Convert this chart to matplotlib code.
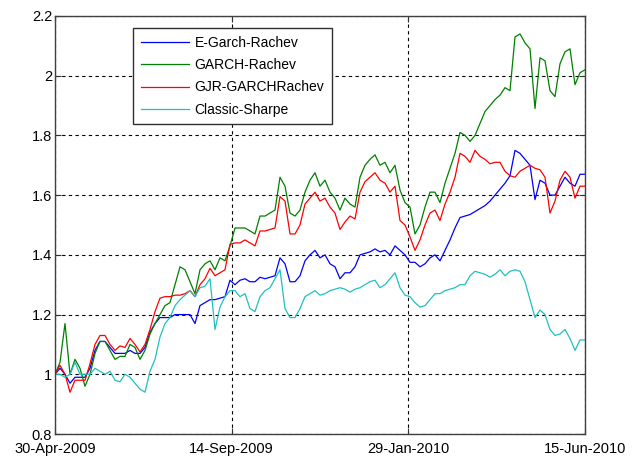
import matplotlib
matplotlib.use("Agg")
import matplotlib.pyplot as plt
import matplotlib.dates as mdates
import pandas as pd

plt.rcParams['font.family'] = ['Liberation Sans', 'DejaVu Sans']

start_date = '2009-04-30'
end_date = '2010-06-15'
tick_dates = ['2009-04-30', '2009-09-14', '2010-01-29', '2010-06-15']
y_ticks = [0.8, 1.0, 1.2, 1.4, 1.6, 1.8, 2.0, 2.2]
y_tick_labels = ['0.8', '1', '1.2', '1.4', '1.6', '1.8', '2', '2.2']

labels = ['E-Garch-Rachev', 'GARCH-Rachev', 'GJR-GARCHRachev', 'Classic-Sharpe']

egarch = [1.00, 1.02, 1.00, 0.97, 0.99, 0.99, 0.99, 1.02, 1.08, 1.11,
          1.11, 1.09, 1.07, 1.07, 1.07, 1.08, 1.07, 1.07, 1.09, 1.14,
          1.17, 1.19, 1.19, 1.19, 1.20, 1.20, 1.20, 1.20, 1.17, 1.23,
          1.24, 1.25, 1.25, 1.255, 1.26, 1.315, 1.30, 1.315, 1.32, 1.31,
          1.31, 1.325, 1.32, 1.325, 1.33, 1.39, 1.37, 1.31, 1.31, 1.33,
          1.38, 1.40, 1.415, 1.39, 1.40, 1.37, 1.36, 1.32, 1.34, 1.34,
          1.36, 1.40, 1.405, 1.41, 1.42, 1.41, 1.415, 1.40, 1.43, 1.415,
          1.40, 1.375, 1.375, 1.36, 1.37, 1.39, 1.40, 1.38, 1.415, 1.45,
          1.49, 1.525, 1.53, 1.535, 1.545, 1.555, 1.565, 1.58, 1.60, 1.62,
          1.64, 1.665, 1.75, 1.74, 1.72, 1.70, 1.585, 1.65, 1.64, 1.60,
          1.60, 1.63, 1.66, 1.64, 1.63, 1.67, 1.67]

garch = [1.00, 1.04, 1.17, 1.00, 1.05, 1.02, 0.96, 1.00, 1.07, 1.11,
         1.11, 1.08, 1.05, 1.06, 1.06, 1.10, 1.09, 1.05, 1.08, 1.135,
         1.17, 1.20, 1.23, 1.24, 1.30, 1.36, 1.35, 1.31, 1.27, 1.35,
         1.37, 1.38, 1.35, 1.39, 1.38, 1.43, 1.49, 1.49, 1.49, 1.48,
         1.47, 1.53, 1.53, 1.54, 1.55, 1.66, 1.63, 1.54, 1.53, 1.55,
         1.61, 1.65, 1.675, 1.63, 1.65, 1.61, 1.59, 1.55, 1.59, 1.57,
         1.56, 1.66, 1.70, 1.72, 1.735, 1.70, 1.71, 1.675, 1.70, 1.617,
         1.575, 1.56, 1.47, 1.50, 1.56, 1.61, 1.61, 1.575, 1.64, 1.69,
         1.74, 1.81, 1.80, 1.78, 1.80, 1.84, 1.88, 1.90, 1.92, 1.935,
         1.96, 1.95, 2.13, 2.14, 2.11, 2.09, 1.89, 2.06, 2.05, 1.95,
         1.93, 2.04, 2.08, 2.09, 1.97, 2.01, 2.02]

gjr = [1.00, 1.03, 1.00, 0.94, 0.98, 0.98, 0.98, 1.035, 1.10, 1.13,
       1.13, 1.10, 1.08, 1.095, 1.09, 1.12, 1.10, 1.075, 1.10, 1.15,
       1.21, 1.255, 1.26, 1.26, 1.265, 1.265, 1.27, 1.28, 1.26, 1.30,
       1.32, 1.355, 1.33, 1.34, 1.35, 1.435, 1.44, 1.44, 1.45, 1.44,
       1.43, 1.48, 1.48, 1.485, 1.49, 1.595, 1.58, 1.47, 1.47, 1.50,
       1.57, 1.59, 1.61, 1.58, 1.59, 1.56, 1.54, 1.485, 1.51, 1.53,
       1.52, 1.61, 1.645, 1.66, 1.675, 1.65, 1.64, 1.61, 1.63, 1.515,
       1.50, 1.46, 1.415, 1.45, 1.50, 1.54, 1.55, 1.515, 1.57, 1.61,
       1.66, 1.74, 1.73, 1.71, 1.75, 1.73, 1.72, 1.705, 1.71, 1.71,
       1.68, 1.665, 1.66, 1.68, 1.69, 1.70, 1.69, 1.685, 1.66, 1.54,
       1.58, 1.65, 1.68, 1.66, 1.59, 1.63, 1.63]

sharpe = [1.00, 1.00, 0.99, 1.00, 1.04, 1.00, 1.00, 1.00, 1.02, 1.01,
          1.00, 1.01, 0.98, 0.975, 1.00, 0.99, 0.97, 0.95, 0.94, 1.01,
          1.05, 1.125, 1.17, 1.19, 1.23, 1.25, 1.265, 1.28, 1.26, 1.29,
          1.295, 1.32, 1.15, 1.225, 1.26, 1.28, 1.28, 1.26, 1.27, 1.22,
          1.21, 1.26, 1.28, 1.29, 1.32, 1.35, 1.22, 1.19, 1.19, 1.22,
          1.26, 1.27, 1.28, 1.265, 1.27, 1.28, 1.285, 1.29, 1.285, 1.275,
          1.285, 1.29, 1.30, 1.31, 1.315, 1.29, 1.30, 1.32, 1.34, 1.29,
          1.265, 1.26, 1.24, 1.225, 1.23, 1.25, 1.27, 1.27, 1.28, 1.285,
          1.29, 1.30, 1.30, 1.33, 1.345, 1.34, 1.335, 1.325, 1.335, 1.35,
          1.33, 1.345, 1.35, 1.345, 1.31, 1.25, 1.19, 1.215, 1.20, 1.15,
          1.13, 1.135, 1.15, 1.12, 1.08, 1.115, 1.115]

series = [egarch, garch, gjr, sharpe]
colors = ['#0000ff', '#008000', '#ff0000', '#20c0c0']

dates = pd.date_range(start_date, end_date, periods=len(egarch))

fig = plt.figure(figsize=(6.4, 4.57), dpi=100)
ax = fig.add_axes([55/640, 23/457, 530/640, 418/457])

for vals, c, lab in zip(series, colors, labels):
    ax.plot(dates, vals, color=c, lw=0.9, label=lab)

ax.set_xlim(pd.Timestamp(start_date), pd.Timestamp(end_date))
ax.set_ylim(0.8, 2.2)
ax.set_xticks([pd.Timestamp(d) for d in tick_dates])
ax.xaxis.set_major_formatter(mdates.DateFormatter('%d-%b-%Y'))
ax.set_yticks(y_ticks)
ax.set_yticklabels(y_tick_labels)

ax.grid(True, color='black', linestyle=(0, (3, 3)), linewidth=0.8)
ax.tick_params(direction='in', length=4, top=True, right=True,
               labelsize=10.5, colors='#333333', labelcolor='black')
ax.tick_params(axis='y', pad=2)
ax.tick_params(axis='x', pad=6)
for s in ax.spines.values():
    s.set_color('#404040')
    s.set_linewidth(1.0)

leg = ax.legend(loc='upper left', bbox_to_anchor=(0.147, 0.971),
                fontsize=10, frameon=True, fancybox=False, framealpha=1,
                edgecolor='#303030', handlelength=3.5, handletextpad=0.4,
                labelspacing=0.6, borderpad=0.55, borderaxespad=0)
leg.get_frame().set_linewidth(1.0)

fig.savefig('out.png', dpi=100)
